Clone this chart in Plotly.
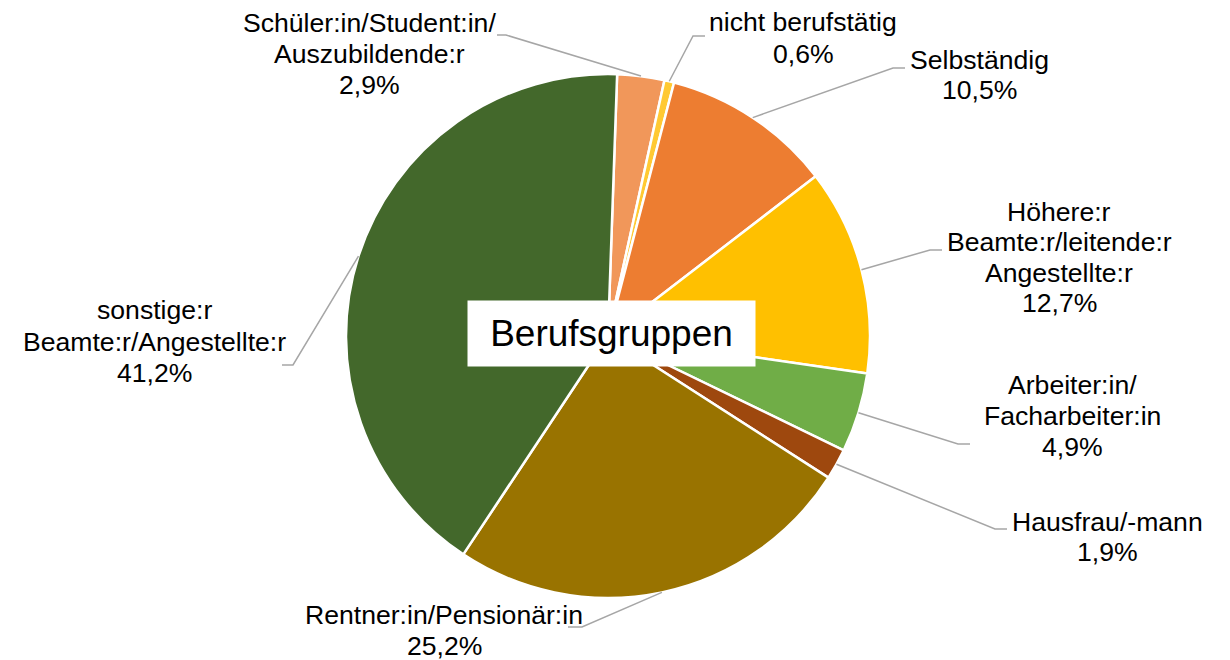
import math
import plotly.graph_objects as go

# ---------------- data ----------------
categories = [
    "Schüler:in/Student:in/<br>Auszubildende:r",
    "nicht berufstätig",
    "Selbständig",
    "Höhere:r<br>Beamte:r/leitende:r<br>Angestellte:r",
    "Arbeiter:in/<br>Facharbeiter:in",
    "Hausfrau/-mann",
    "Rentner:in/Pensionär:in",
    "sonstige:r<br>Beamte:r/Angestellte:r",
]
shares = [2.9, 0.6, 10.5, 12.7, 4.9, 1.9, 25.2, 41.2]
colors = ["#F1975A", "#FFC933", "#ED7D31", "#FFC000",
          "#70AD47", "#9E480E", "#997300", "#43682B"]
title_text = "Berufsgruppen"

# ---------------- layout constants (pixels) ----------------
W, H = 1230, 660
CX, CY, R = 608, 336, 262
ROT = 2
FONT = "Liberation Sans, Arial, sans-serif"

# label placement: center x, first line y, line step, elbow, end of leader
label_pos = [
    (369, 23, 31.0, (506, 35), (497, 35)),
    (803, 22, 32.0, (693, 36), (705, 36)),
    (979, 60, 30.0, (893, 68), (905, 68)),
    (1059, 212, 30.4, (930, 250), (942, 250)),
    (1072, 385, 30.8, (958, 444), (970, 444)),
    (1107, 522, 30.0, (995, 529), (1007, 529)),
    (444, 615, 31.0, (582, 627), (568, 627)),
    (154, 310, 31.7, (293, 365), (282, 365)),
]


def px(x):
    return x / W


def py(y):
    return 1 - y / H


fig = go.Figure()
fig.add_trace(go.Pie(
    labels=[c.replace("<br>", " ") for c in categories],
    values=shares,
    sort=False,
    direction="clockwise",
    rotation=ROT,
    textinfo="none",
    hoverinfo="label+value",
    marker=dict(colors=colors, line=dict(color="white", width=2.5)),
    domain=dict(x=[px(CX - R), px(CX + R)], y=[py(CY + R), py(CY - R)]),
    showlegend=False,
))

annotations = []
shapes = []
total = sum(shares)
cum = 0.0
for cat, val, pos in zip(categories, shares, label_pos):
    mid = cum + val / 2
    cum += val
    ang = math.radians(ROT + mid / total * 360)
    sx = CX + R * math.sin(ang)
    sy = CY - R * math.cos(ang)
    cx, y0, step, elbow, end = pos
    lines = cat.split("<br>") + [f"{val:.1f}%".replace(".", ",")]
    for i, ln in enumerate(lines):
        annotations.append(dict(
            x=px(cx), y=py(y0 + i * step), xref="paper", yref="paper",
            text=ln, showarrow=False, xanchor="center", yanchor="middle",
            font=dict(family=FONT, size=26.6, color="#000000"),
        ))
    path = (f"M {px(sx)} {py(sy)} L {px(elbow[0])} {py(elbow[1])} "
            f"L {px(end[0])} {py(end[1])}")
    shapes.append(dict(type="path", xref="paper", yref="paper", path=path,
                       line=dict(color="#A6A6A6", width=1.5)))

annotations.append(dict(
    x=px(611.5), y=py(333.5), xref="paper", yref="paper",
    text=title_text, showarrow=False, xanchor="center", yanchor="middle",
    width=287, height=65, bgcolor="white", borderpad=0,
    font=dict(family=FONT, size=37, color="#000000"),
))

fig.update_layout(
    width=W, height=H,
    margin=dict(l=0, r=0, t=0, b=0),
    paper_bgcolor="white", plot_bgcolor="white",
    annotations=annotations, shapes=shapes,
)

fig.write_html(
    "out.html",
    config={"displayModeBar": False},
    post_script="document.body.style.margin='0';document.body.style.overflow='hidden';",
)
